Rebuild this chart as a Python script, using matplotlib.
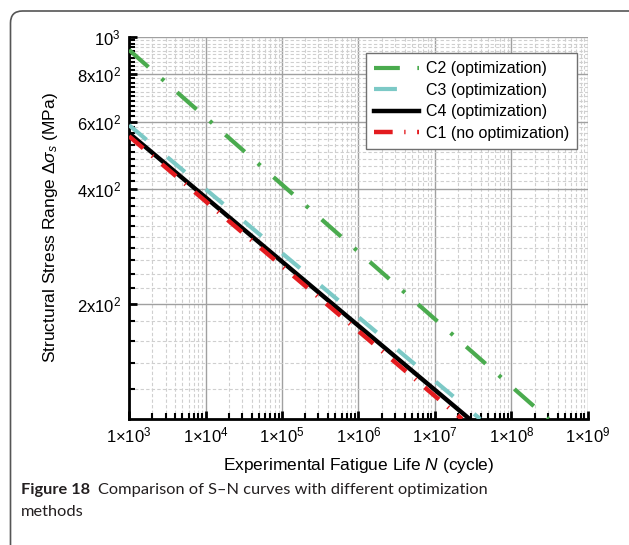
import numpy as np
import matplotlib
matplotlib.use("Agg")
import matplotlib.pyplot as plt
from matplotlib.ticker import FixedLocator, FixedFormatter, NullFormatter
from matplotlib.patches import FancyBboxPatch

plt.rcParams["font.family"] = ["Liberation Sans", "DejaVu Sans"]
plt.rcParams["mathtext.fontset"] = "custom"
plt.rcParams["mathtext.rm"] = "Liberation Sans"
plt.rcParams["mathtext.it"] = "Liberation Sans:italic"
plt.rcParams["mathtext.bf"] = "Liberation Sans:bold"

# S-N curves: end points of each straight line in log-log space
c2_N = [1e3, 3.04e8]
c2_S = [925, 100]
c3_N = [1e3, 3.9e7]
c3_S = [588, 100]
c4_N = [1e3, 2.83e7]
c4_S = [560, 100]
c1_N = [1e3, 2.25e7]
c1_S = [550, 100]

x_ticks = [1e3, 1e4, 1e5, 1e6, 1e7, 1e8, 1e9]
x_labels = [r"$1{\times}10^{%d}$" % k for k in range(3, 10)]
y_ticks = [200, 400, 600, 800, 1000]
y_labels = [r"$2$x$10^{2}$", r"$4$x$10^{2}$", r"$6$x$10^{2}$", r"$8$x$10^{2}$", r"$10^{3}$"]

fig = plt.figure(figsize=(6.29, 5.45), dpi=100)
ax = fig.add_axes([0.2051, 0.2312, 0.7297, 0.7009])

ax.plot(c2_N, c2_S, color="#4aab4e", lw=3.0, dashes=(6.2, 4.2, 0.8, 4.2),
        label="C2 (optimization)", zorder=3)
ax.plot(c3_N, c3_S, color="#7cc9c6", lw=3.0, dashes=(5.5, 6.5),
        label="C3 (optimization)", zorder=3)
ax.plot(c4_N, c4_S, color="black", lw=3.2, label="C4 (optimization)", zorder=4)
ax.plot(c1_N, c1_S, color="#e31b1f", lw=3.2, dashes=(4.2, 2.6, 0.3, 2.6),
        label="C1 (no optimization)", zorder=5)

ax.set_xscale("log")
ax.set_yscale("log")
ax.set_xlim(1e3, 1e9)
ax.set_ylim(100, 1000)

ax.xaxis.set_major_locator(FixedLocator(x_ticks))
ax.xaxis.set_major_formatter(FixedFormatter(x_labels))
ax.xaxis.set_minor_locator(FixedLocator([m * 10.0 ** k for k in range(3, 9) for m in range(2, 10)]))
ax.xaxis.set_minor_formatter(NullFormatter())

ax.yaxis.set_major_locator(FixedLocator(y_ticks))
ax.yaxis.set_major_formatter(FixedFormatter(y_labels))
ax.yaxis.set_minor_locator(FixedLocator([v for v in range(120, 1000, 20) if v not in y_ticks]))
ax.yaxis.set_minor_formatter(NullFormatter())

ax.grid(which="major", color="#a0a0a0", lw=1.0, ls="-", zorder=0)
ax.grid(which="minor", color="#cfcfcf", lw=0.8, ls=(0, (3, 2)), zorder=0)
ax.set_axisbelow(True)

for side in ["top", "right"]:
    ax.spines[side].set_visible(False)
for side in ["left", "bottom"]:
    ax.spines[side].set_linewidth(2.0)

ax.tick_params(which="major", direction="in", length=6, width=2.0, labelsize=12, pad=6)
ax.tick_params(which="minor", direction="in", length=4, width=1.5)
ax.tick_params(axis="x", which="major", pad=5)

ax.set_xlabel(r"Experimental Fatigue Life $\mathit{N}$ (cycle)", fontsize=12.5, labelpad=7)
ax.set_ylabel(r"Structural Stress Range $\mathit{\Delta\sigma_s}$ (MPa)", fontsize=12.5, labelpad=12)

leg = ax.legend(loc="upper right", bbox_to_anchor=(0.993, 0.978), fontsize=11.5,
                frameon=True, fancybox=False, edgecolor="#707070", framealpha=1,
                handlelength=2.8, handletextpad=0.4, borderpad=0.5, labelspacing=0.4)
leg.get_frame().set_linewidth(1.0)

# rounded panel outline
panel = FancyBboxPatch((0.105, -0.3), 7.0, 5.64, boxstyle="round,pad=0,rounding_size=0.12",
                       transform=fig.dpi_scale_trans, fill=False, edgecolor="#555555", lw=1.2)
fig.patches.append(panel)

cap_font = ["Lato", "DejaVu Sans"]
fig.text(0.033, 0.094, "Figure 18", fontsize=11.8, fontweight="bold", family=cap_font, color="#231f20")
fig.text(0.156, 0.094, "Comparison of S\u2013N curves with different optimization",
         fontsize=11.8, family=cap_font, color="#231f20")
fig.text(0.033, 0.054, "methods", fontsize=11.8, family=cap_font, color="#231f20")

fig.savefig("out.png", dpi=100)
